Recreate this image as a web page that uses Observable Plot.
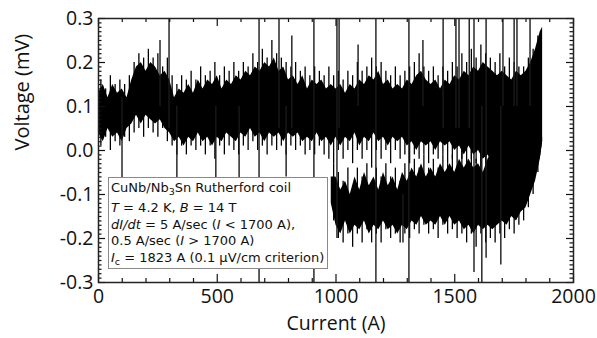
<!DOCTYPE html>
<html><head><meta charset="utf-8">
<script src="https://cdn.jsdelivr.net/npm/d3@7"></script>
<script src="https://cdn.jsdelivr.net/npm/@observablehq/plot@0.6"></script>
<style>
body{margin:0;background:#fff;}
#wrap{position:relative;width:597px;height:338px;font-family:"Open Sans",sans-serif;color:#111;}
#legend{position:absolute;left:108px;top:177px;width:216px;height:90px;border:1px solid #8a8a8a;background:#fff;font-family:"DejaVu Sans",sans-serif;font-size:13px;line-height:16.5px;padding:0 0 0 2px;box-sizing:content-box;white-space:nowrap;overflow:hidden;}
#legend div{height:16.5px;}
#legend div.first{margin-top:2.25px;margin-bottom:3.5px;}
#legend sub{font-size:9.5px;vertical-align:-3px;line-height:0;}
</style>
</head><body>
<div id="wrap"></div>
<script>
// Current (A) sampling of the upper (~0.1 mV) noise band
const currentU = [0,20,40,60,80,100,120,140,160,180,200,220,240,260,280,300,320,340,360,380,400,420,440,460,480,500,520,540,560,580,600,620,640,660,680,700,720,740,760,780,800,820,840,860,880,900,920,940,960,980,1000,1020,1040,1060,1080,1100,1120,1140,1160,1180,1200,1220,1240,1260,1280,1300,1320,1340,1360,1380,1400,1420,1440,1460,1480,1500,1520,1540,1560,1580,1600,1620,1640,1660,1680,1700,1720,1740,1760,1780,1800,1820,1840,1860,1870];
const upperHi = [0.13,0.15,0.12,0.15,0.13,0.14,0.12,0.16,0.19,0.20,0.18,0.20,0.19,0.17,0.18,0.16,0.12,0.14,0.13,0.15,0.13,0.16,0.14,0.16,0.15,0.17,0.14,0.16,0.15,0.17,0.16,0.18,0.17,0.19,0.18,0.20,0.19,0.21,0.18,0.19,0.16,0.17,0.15,0.17,0.14,0.16,0.15,0.16,0.14,0.15,0.14,0.15,0.13,0.15,0.14,0.16,0.15,0.17,0.16,0.18,0.15,0.16,0.14,0.15,0.14,0.16,0.15,0.17,0.18,0.16,0.15,0.16,0.14,0.16,0.15,0.17,0.16,0.18,0.17,0.19,0.18,0.20,0.19,0.18,0.17,0.18,0.17,0.16,0.18,0.17,0.18,0.20,0.23,0.27,0.28];
const upperLo = [0.04,0.02,0.05,0.03,0.04,0.02,0.05,0.06,0.08,0.06,0.08,0.07,0.06,0.07,0.05,0.04,0.02,0.03,0.01,0.03,0.02,0.04,0.02,0.03,0.01,0.03,0.02,0.04,0.03,0.02,0.04,0.03,0.05,0.03,0.04,0.02,0.04,0.03,0.04,0.02,0.04,0.03,0.04,0.02,0.03,0.02,0.04,0.02,0.03,0.01,0.03,0.01,0.03,0.02,0.04,0.01,0.03,0.02,0.04,0.02,0.03,0.01,0.03,0.02,0.03,0.01,0.02,0.00,0.02,0.01,0.02,0.00,0.02,0.01,0.02,0.00,0.01,-0.01,0.01,-0.01,0.00,-0.02,-0.01,-0.03,-0.02,-0.03,-0.02,-0.03,-0.02,-0.03,-0.02,-0.03,-0.02,-0.02,0.02];

// Needle-like excursions at the edges of the upper band (between the samples above)
const fringeU = [10,30,50,70,90,110,130,150,170,190,210,230,250,270,290,310,330,350,370,390,410,430,450,470,490,510,530,550,570,590,610,630,650,670,690,710,730,750,770,790,810,830,850,870,890,910,930,950,970,990,1010,1030,1050,1070,1090,1110,1130,1150,1170,1190,1210,1230,1250,1270,1290,1310,1330,1350,1370,1390,1410,1430,1450,1470,1490,1510,1530,1550,1570,1590,1610,1630,1650,1670,1690,1710,1730,1750,1770,1790,1810,1830,1850];
const fringeUHi = [0.16,0.14,0.17,0.15,0.16,0.15,0.17,0.20,0.22,0.21,0.23,0.21,0.22,0.19,0.21,0.17,0.15,0.17,0.16,0.18,0.16,0.19,0.17,0.18,0.20,0.17,0.19,0.18,0.20,0.18,0.20,0.19,0.22,0.20,0.23,0.21,0.25,0.22,0.21,0.20,0.19,0.20,0.18,0.19,0.17,0.19,0.18,0.17,0.19,0.17,0.18,0.16,0.18,0.17,0.20,0.18,0.19,0.21,0.19,0.20,0.18,0.17,0.19,0.17,0.18,0.19,0.20,0.22,0.19,0.18,0.19,0.17,0.19,0.18,0.20,0.19,0.22,0.20,0.23,0.21,0.24,0.22,0.21,0.20,0.22,0.19,0.21,0.20,0.19,0.19,0.21,0.23,0.26];
const fringeULo = [0.01,0.03,0.00,0.02,0.01,0.03,0.02,0.04,0.05,0.03,0.05,0.04,0.03,0.05,0.02,0.01,-0.01,0.01,-0.01,0.01,0.00,0.01,-0.01,0.01,-0.02,0.01,-0.01,0.01,0.00,-0.01,0.01,0.00,0.02,0.00,0.01,-0.01,0.01,0.00,0.01,-0.01,0.01,0.00,0.01,-0.01,0.00,-0.01,0.01,-0.01,-0.02,-0.03,0.00,-0.02,0.00,-0.03,0.00,-0.02,0.00,-0.04,0.00,-0.02,0.00,-0.03,0.00,-0.02,-0.01,-0.03,-0.01,-0.02,-0.01,-0.03,-0.01,-0.02,-0.01,-0.03,-0.02,-0.03,-0.02,-0.04,-0.02,-0.03,-0.04,-0.03,-0.03,-0.03,-0.03,-0.03,-0.03,-0.03,-0.03,-0.03,-0.03,-0.03,-0.03];

// Lower (~-0.1 mV) band, present above ~1000 A
const currentL = [980,1000,1020,1040,1060,1080,1100,1120,1140,1160,1180,1200,1220,1240,1260,1280,1300,1320,1340,1360,1380,1400,1420,1440,1460,1480,1500,1520,1540,1560,1580,1600,1620,1640,1660,1680,1700,1720,1740,1760,1780,1800,1820,1840,1860,1870];
const lowerHi = [-0.06,-0.06,-0.09,-0.07,-0.10,-0.06,-0.09,-0.05,-0.08,-0.06,-0.09,-0.05,-0.08,-0.06,-0.09,-0.05,-0.07,-0.04,-0.06,-0.03,-0.06,-0.04,-0.06,-0.03,-0.05,-0.03,-0.05,-0.02,-0.04,-0.02,-0.04,-0.03,-0.05,-0.02,0.00,0.01,0.01,0.01,0.01,0.01,0.01,0.01,0.01,0.01,0.01,0.03];
const lowerLo = [-0.12,-0.17,-0.19,-0.16,-0.19,-0.17,-0.18,-0.16,-0.19,-0.17,-0.18,-0.16,-0.18,-0.17,-0.19,-0.17,-0.18,-0.16,-0.17,-0.15,-0.17,-0.16,-0.17,-0.15,-0.17,-0.15,-0.17,-0.16,-0.18,-0.17,-0.19,-0.17,-0.18,-0.17,-0.18,-0.17,-0.16,-0.17,-0.15,-0.16,-0.14,-0.13,-0.10,-0.07,-0.02,0.02];

// Needle-like excursions of the lower band
const fringeL = [990,1010,1030,1050,1070,1090,1110,1130,1150,1170,1190,1210,1230,1250,1270,1290,1310,1330,1350,1370,1390,1410,1430,1450,1470,1490,1510,1530,1550,1570,1590,1610,1630,1650,1670,1690,1710,1730,1750,1770,1790,1810,1830,1850];
const fringeLHi = [-0.03,-0.05,-0.07,-0.04,-0.08,-0.04,-0.06,-0.03,-0.07,-0.04,-0.06,-0.03,-0.06,-0.04,-0.07,-0.03,-0.05,-0.02,-0.04,-0.01,-0.04,-0.02,-0.04,-0.01,-0.03,-0.01,-0.03,0.00,-0.02,0.00,-0.02,-0.01,-0.03,0.00,0.01,0.01,0.01,0.01,0.01,0.01,0.01,0.01,0.01,0.01];
const fringeLLo = [-0.16,-0.20,-0.21,-0.19,-0.22,-0.19,-0.21,-0.18,-0.21,-0.19,-0.21,-0.18,-0.20,-0.19,-0.21,-0.19,-0.20,-0.18,-0.19,-0.17,-0.19,-0.18,-0.20,-0.17,-0.19,-0.18,-0.20,-0.19,-0.21,-0.19,-0.22,-0.19,-0.21,-0.20,-0.21,-0.19,-0.20,-0.18,-0.19,-0.17,-0.16,-0.13,-0.10,-0.05];

// Isolated tall spikes: current, low end, high end (mV)
const spikeAt = [99,259,297,330,494,592,676,760,790,814,907,1004,1013,1093,1168,1282,1307,1366,1451,1505,1518,1561,1581,1614,1632,1694,1703,1750,1762,1817];
const spikeLo = [-0.20,0.10,0.05,-0.15,-0.12,-0.08,-0.30,0.05,-0.06,0.05,-0.30,-0.20,0.05,0.10,-0.30,-0.21,-0.30,0.10,0.05,0.05,0.05,0.05,-0.277,-0.30,-0.245,-0.26,0.10,0.10,0.10,0.10];
const spikeHi = [0.12,0.25,0.30,0.10,0.10,0.10,0.30,0.30,0.10,0.26,0.30,0.30,0.30,0.24,0.30,-0.10,0.30,0.25,0.30,0.30,0.30,0.30,0.30,0.10,0.30,0.10,0.30,0.30,0.30,0.30];

// Axis ticks
const xMajor = [0,500,1000,1500,2000];
const xMinor = [100,200,300,400,600,700,800,900,1100,1200,1300,1400,1600,1700,1800,1900];
const yMajor = [-0.3,-0.2,-0.1,0,0.1,0.2,0.3];
const yMinor = [-0.29,-0.28,-0.27,-0.26,-0.25,-0.24,-0.23,-0.22,-0.21,-0.19,-0.18,-0.17,-0.16,-0.15,-0.14,-0.13,-0.12,-0.11,-0.09,-0.08,-0.07,-0.06,-0.05,-0.04,-0.03,-0.02,-0.01,0.01,0.02,0.03,0.04,0.05,0.06,0.07,0.08,0.09,0.11,0.12,0.13,0.14,0.15,0.16,0.17,0.18,0.19,0.21,0.22,0.23,0.24,0.25,0.26,0.27,0.28,0.29];

const upper = currentU.map((c,i)=>({c, hi: upperHi[i], lo: upperLo[i]}));
const lower = currentL.map((c,i)=>({c, hi: lowerHi[i], lo: lowerLo[i]}));
const needlesU = fringeU.map((c,i)=>({c, hi: fringeUHi[i], lo: fringeULo[i]}));
const needlesL = fringeL.map((c,i)=>({c, hi: fringeLHi[i], lo: fringeLLo[i]}));
const spikes = spikeAt.map((c,i)=>({c, lo: spikeLo[i], hi: spikeHi[i]}));

const W = 597, H = 338, mL = 98, mR = 24, mT = 18, mB = 56;
const iW = W - mL - mR, iH = H - mT - mB;
const ink = "#111";

const chart = Plot.plot({
  width: W, height: H,
  marginLeft: mL, marginRight: mR, marginTop: mT, marginBottom: mB,
  style: {fontFamily: "Open Sans, sans-serif", fontSize: "19.5px", color: ink, background: "white", overflow: "visible"},
  x: {domain: [0, 2000], label: null},
  y: {domain: [-0.3, 0.3], label: null},
  marks: [
    Plot.areaY(upper, {x: "c", y1: "lo", y2: "hi", fill: "black", curve: "linear"}),
    Plot.areaY(lower, {x: "c", y1: "lo", y2: "hi", fill: "black", curve: "linear"}),
    Plot.ruleX(needlesU, {x: "c", y1: "lo", y2: "hi", stroke: "black", strokeWidth: 1.3}),
    Plot.ruleX(needlesL, {x: "c", y1: "lo", y2: "hi", stroke: "black", strokeWidth: 1.3}),
    Plot.ruleX(spikes, {x: "c", y1: "lo", y2: "hi", stroke: "#1a1a1a", strokeWidth: 1.4}),
    Plot.tickX(xMajor, {x: d => d, insetTop: iH - 8, stroke: ink, strokeWidth: 1.2}),
    Plot.tickX(xMinor, {x: d => d, insetTop: iH - 4, stroke: ink, strokeWidth: 1.2}),
    Plot.tickX(xMajor, {x: d => d, insetBottom: iH - 8, stroke: ink, strokeWidth: 1.2}),
    Plot.tickX(xMinor, {x: d => d, insetBottom: iH - 4, stroke: ink, strokeWidth: 1.2}),
    Plot.tickY(yMajor, {y: d => d, insetRight: iW - 7, stroke: ink, strokeWidth: 1.2}),
    Plot.tickY(yMinor, {y: d => d, insetRight: iW - 3.5, stroke: ink, strokeWidth: 1.2}),
    Plot.tickY(yMajor, {y: d => d, insetLeft: iW - 7, stroke: ink, strokeWidth: 1.2}),
    Plot.tickY(yMinor, {y: d => d, insetLeft: iW - 3.5, stroke: ink, strokeWidth: 1.2}),
    Plot.frame({stroke: "#222", strokeWidth: 1.5}),
    Plot.axisX({ticks: xMajor, tickSize: 0, tickPadding: 7, tickFormat: d => String(d), label: null, fontSize: 19.5}),
    Plot.axisY({ticks: yMajor, tickSize: 0, tickPadding: 5, tickFormat: d => d.toFixed(1), label: null, fontSize: 19.5}),
    Plot.text(["Current (A)"], {text: d => d, frameAnchor: "bottom", dy: 47, fontSize: 19.5, fill: ink}),
    Plot.text(["Voltage (mV)"], {text: d => d, frameAnchor: "left", dx: -76, rotate: -90, fontSize: 20, fill: ink})
  ]
});

const wrap = document.getElementById("wrap");
wrap.appendChild(chart);
const legend = document.createElement("div");
legend.id = "legend";
legend.innerHTML =
  '<div class="first">CuNb/Nb<sub>3</sub>Sn Rutherford coil</div>' +
  '<div><i>T</i> = 4.2 K, <i>B</i> = 14 T</div>' +
  '<div><i>dI/dt</i> = 5 A/sec (<i>I</i> &lt; 1700 A),</div>' +
  '<div>0.5 A/sec (<i>I</i> &gt; 1700 A)</div>' +
  '<div><i>I</i><sub>c</sub> = 1823 A (0.1 μV/cm criterion)</div>';
wrap.appendChild(legend);
</script>
</body></html>
